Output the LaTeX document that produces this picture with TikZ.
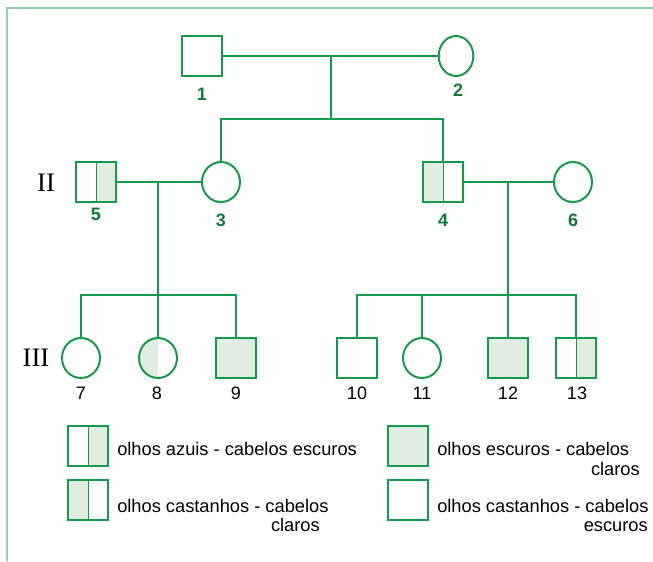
\documentclass[tikz,border=0pt]{standalone}
\usepackage{fontspec}
\setmainfont{Liberation Sans}
\newfontfamily\romanfont{Liberation Serif}
\usetikzlibrary{shapes.geometric}
\definecolor{ln}{HTML}{15994A}
\definecolor{lg}{HTML}{E0EFE2}
\definecolor{fr}{HTML}{93CFA3}
\definecolor{lab}{HTML}{0E7A35}
\begin{document}
\begin{tikzpicture}[x=0.75pt,y=-0.75pt,
  male/.style={rectangle, draw=ln, line width=1.5pt, minimum size=30pt, inner sep=0pt},
  female/.style={ellipse, draw=ln, line width=1.5pt, minimum width=28.5pt, minimum height=30pt, inner sep=0pt},
  full/.style={fill=lg},
  rhalf/.style={path picture={\fill[lg] (path picture bounding box.north) rectangle (path picture bounding box.south east);
     \draw[ln, line width=0.75pt] (path picture bounding box.north) -- (path picture bounding box.south);}},
  lhalf/.style={path picture={\fill[lg] (path picture bounding box.north) rectangle (path picture bounding box.south west);
     \draw[ln, line width=0.75pt] (path picture bounding box.north) -- (path picture bounding box.south);}},
  lhalfplain/.style={path picture={\fill[lg] (path picture bounding box.north) rectangle (path picture bounding box.south west);}},
  link/.style={draw=ln, line width=1.5pt},
  glab/.style={text=lab, font=\bfseries\fontsize{13.5}{14}\selectfont, inner sep=0pt},
  blab/.style={font=\fontsize{13.5}{14}\selectfont, inner sep=0pt},
  gen/.style={font=\romanfont\fontsize{20}{22}\selectfont, inner sep=0pt},
  leg/.style={font=\fontsize{13.7}{16}\selectfont, inner sep=0pt}]
\useasboundingbox (0,0) rectangle (653,561);
\draw[fr, line width=1.5pt] (7,561) -- (7,8) -- (653,8);

% generation I
\node[male] (p1) at (202,56) {};
\node[female, minimum width=26pt] (p2) at (456,56) {};
\node[glab] (l1) at (202,94) {1};
\node[glab] (l2) at (458,90) {2};
\draw[link] (p1.east) -- (p2.west);
\coordinate (m12) at (331,56);
\coordinate (s12) at (331,119);

% generation II
\node[gen] (gII) at (46,183) {II};
\node[male, rhalf] (p5) at (96,182) {};
\node[female] (p3) at (221,182) {};
\node[male, lhalf] (p4) at (443,182) {};
\node[female] (p6) at (573,182) {};
\node[glab] (l5) at (96,214) {5};
\node[glab] (l3) at (221,220) {3};
\node[glab] (l4) at (443,220) {4};
\node[glab] (l6) at (573,220) {6};
\draw[link] (m12) -- (s12);
\draw[link] (p3.north) |- (s12) -| (p4.north);
\draw[link] (p5.east) -- (p3.west);
\draw[link] (p4.east) -- (p6.west);
\coordinate (m53) at (158,182);
\coordinate (s53) at (158,295);
\coordinate (m46) at (508,182);
\coordinate (s46) at (508,295);

% generation III
\node[gen] (gIII) at (36,358) {III};
\node[female] (p7) at (81,358) {};
\node[female, lhalfplain] (p8) at (158,358) {};
\node[male, full] (p9) at (236,358) {};
\node[male] (p10) at (357,358) {};
\node[female] (p11) at (422,358) {};
\node[male, full] (p12) at (508,358) {};
\node[male, rhalf] (p13) at (576,358) {};
\node[blab] (l7) at (81,393) {7};
\node[blab] (l8) at (157,393) {8};
\node[blab] (l9) at (236,393) {9};
\node[blab] (l10) at (357,393) {10};
\node[blab] (l11) at (422,393) {11};
\node[blab] (l12) at (508,393) {12};
\node[blab] (l13) at (577,393) {13};
\draw[link] (m53) -- (p8.north);
\draw[link] (p7.north) |- (s53) -| (p9.north);
\draw[link] (m46) -- (p12.north);
\draw[link] (p10.north) |- (s46) -| (p13.north);
\draw[link] (p11.north) -- (p11.north |- s46);

% legend
\node[male, rhalf] (k1) at (88,446) {};
\node[male, lhalf] (k2) at (88,500) {};
\node[male, full] (k3) at (408,446) {};
\node[male] (k4) at (408,500) {};
\node[leg, anchor=base west] (t1) at (117,455) {olhos azuis - cabelos escuros};
\node[leg, anchor=base west] (t2a) at (117,512) {olhos castanhos - cabelos};
\node[leg, anchor=base east] (t2b) at (320,531) {claros};
\node[leg, anchor=base west] (t3a) at (437,455) {olhos escuros - cabelos};
\node[leg, anchor=base east] (t3b) at (640,475) {claros};
\node[leg, anchor=base west] (t4a) at (437,512) {olhos castanhos - cabelos};
\node[leg, anchor=base east] (t4b) at (648,531) {escuros};
\end{tikzpicture}
\end{document}
